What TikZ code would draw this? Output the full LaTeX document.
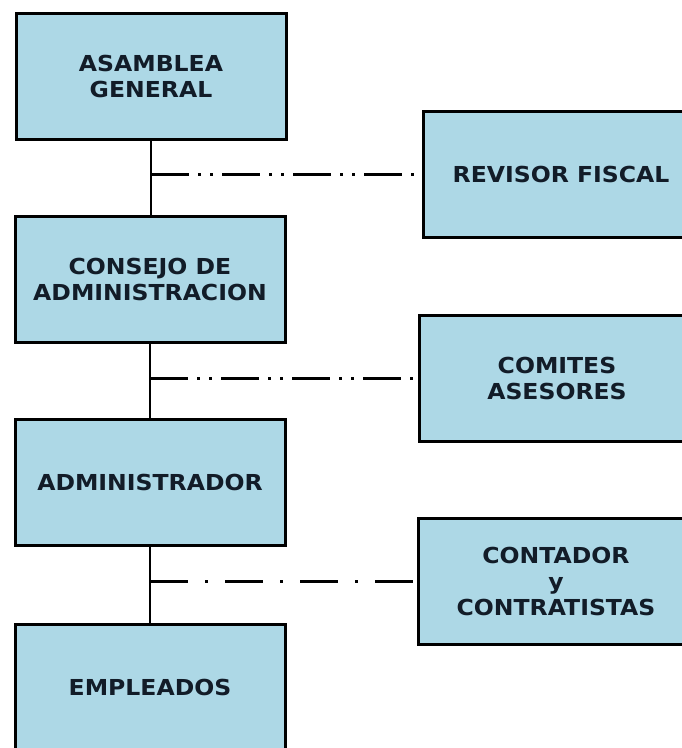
\documentclass[tikz,border=0pt]{standalone}
\usepackage{fontspec}
\usepackage{xcolor}
\usepackage{tikz}
\newfontfamily\orgfont{DejaVu Sans}[FakeStretch=1.07]
\definecolor{cajaazul}{RGB}{173,216,230}
\definecolor{textoazul}{RGB}{18,28,40}

\begin{document}
\begin{tikzpicture}[x=1pt,y=-1pt,
  caja/.style={draw=black,line width=3pt,fill=cajaazul,text=textoazul,
    minimum width=270pt,minimum height=126pt,align=center,
    font=\orgfont\bfseries\fontsize{22}{26}\selectfont},
  tronco/.style={line width=1.8pt},
  enlace/.style={line width=3pt,dash pattern=on 38pt off 9pt on 3pt off 9pt on 3pt off 9pt},
  enlaceb/.style={line width=3pt,dash pattern=on 38pt off 17pt on 3pt off 17pt}]
\useasboundingbox (0,0) rectangle (682,748);
\clip (0,0) rectangle (682,748);
\fill[white] (0,0) rectangle (682,748);
\node[caja] (asamblea) at (151,76) {ASAMBLEA\\GENERAL};
\node[caja] (consejo) at (150,279) {CONSEJO DE\\ADMINISTRACION};
\node[caja] (admin) at (150,482) {ADMINISTRADOR};
\node[caja] (empleados) at (150,687) {EMPLEADOS};
\node[caja,minimum width=276pt] (revisor) at (561,174) {REVISOR FISCAL};
\node[caja,minimum width=276pt] (comites) at (557,378) {COMITES\\ASESORES};
\node[caja,minimum width=276pt] (contador) at (556,581) {CONTADOR\\y\\CONTRATISTAS};
\coordinate (j1) at (asamblea.south |- revisor.west);
\coordinate (j2) at (consejo.south |- comites.west);
\coordinate (j3) at (admin.south |- contador.west);
\draw[tronco] (asamblea.south) -- (asamblea.south |- consejo.north);
\draw[tronco] (consejo.south) -- (admin.north);
\draw[tronco] (admin.south) -- (empleados.north);
\draw[enlace] (j1) -- (revisor.west);
\draw[enlace] (j2) -- (comites.west);
\draw[enlaceb] (j3) -- (contador.west);
\end{tikzpicture}
\end{document}
